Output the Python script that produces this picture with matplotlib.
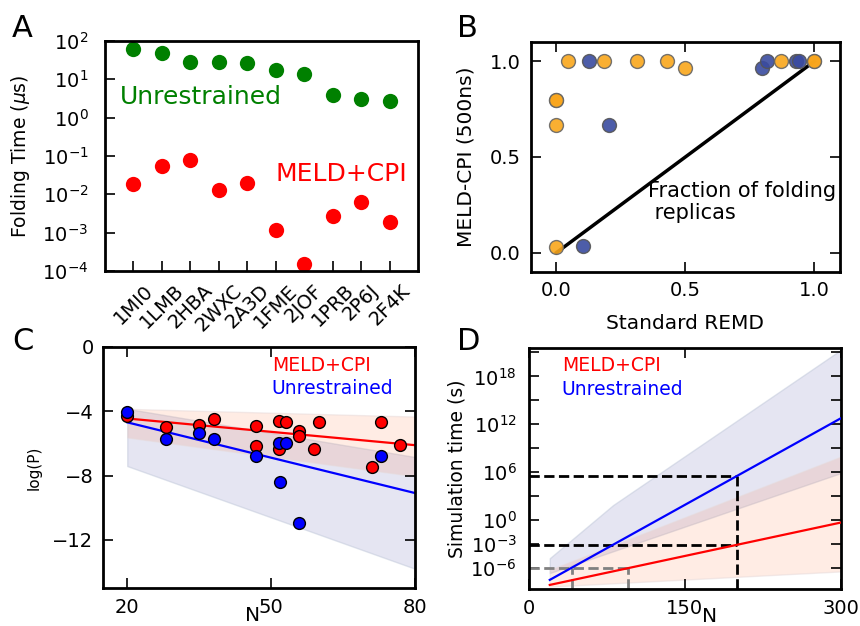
import numpy as np
import matplotlib
matplotlib.use('Agg')
import matplotlib.pyplot as plt
from matplotlib.ticker import FixedLocator, FuncFormatter, NullLocator

# ---------------- Panel A data ----------------
proteins = ['1MI0', '1LMB', '2HBA', '2WXC', '2A3D', '1FME', '2JOF', '1PRB', '2P6J', '2F4K']
unrestrained_time = [63, 48, 28, 28, 27, 17.5, 13.8, 3.8, 3.0, 2.7]
meld_time = [0.0184, 0.055, 0.079, 0.0126, 0.020, 0.00117, 0.00015, 0.0028, 0.0065, 0.0019]

# ---------------- Panel B data ----------------
orange_x = [0.0, 0.0, 0.0, 0.0, 0.043, 0.186, 0.312, 0.428, 0.5, 0.873, 1.0, 1.0]
orange_y = [0.03, 0.667, 0.80, 0.80, 1.0, 1.0, 1.0, 1.0, 0.965, 1.0, 1.0, 1.0]
blue_x = [0.102, 0.128, 0.202, 0.797, 0.815, 0.93, 0.94]
blue_y = [0.033, 1.0, 0.667, 0.965, 1.0, 1.0, 1.0]
diag = [0.0, 1.0]

# ---------------- Panel C data ----------------
meld_N = [20, 28, 34.9, 38, 46.9, 46.9, 51.7, 51.7, 53, 55.9, 55.9, 59, 59.9, 71, 73, 76.9]
meld_logP = [-4.27, -5.0, -4.86, -4.48, -4.94, -6.16, -4.63, -6.32, -4.67, -5.21, -5.57,
             -6.32, -4.67, -7.45, -4.65, -6.09]
unr_N = [20, 28, 34.9, 38, 46.9, 51.7, 53, 51.8, 55.9, 73]
unr_logP = [-4.02, -5.70, -5.36, -5.74, -6.78, -5.99, -5.95, -8.42, -10.97, -6.78]
fitC_N = [20, 80]
fitC_meld = [-4.45, -6.11]
fitC_unr = [-4.69, -9.09]
bandC_meld_hi = [-3.85, -4.33]
bandC_meld_lo = [-5.63, -8.04]
bandC_unr_hi = [-3.85, -6.85]
bandC_unr_lo = [-7.41, -13.8]

# ---------------- Panel D data (log10 seconds) ----------------
fitD_N = [20, 300]
fitD_meld = [-8.09, -0.29]
fitD_unr = [-7.46, 12.75]
bandD_unr_hi_N = [20, 81, 300]
bandD_unr_hi = [-4.75, 1.9, 21.3]
bandD_unr_lo = [-6.6, 5.9]
bandD_meld_hi = [-6.2, 7.95]
bandD_meld_lo = [-8.3, -6.4]
N_target = 200
N_gray_unr = 41
N_gray_meld = 95
gray_level = -6

# ---------------- style ----------------
plt.rcParams.update({
    'font.family': ['DejaVu Sans'],
    'xtick.direction': 'in', 'ytick.direction': 'in',
    'xtick.major.size': 7, 'ytick.major.size': 7,
    'xtick.major.width': 1.2, 'ytick.major.width': 1.2,
    'xtick.labelsize': 14, 'ytick.labelsize': 14,
    'axes.linewidth': 2,
    'axes.labelsize': 13.5,
})

W, H = 860, 626
fig = plt.figure(figsize=(W / 100, H / 100), dpi=100)


def ax_px(l, r, t, b):
    return fig.add_axes([l / W, 1 - b / H, (r - l) / W, (b - t) / H])


axA = ax_px(105, 418, 41, 271)
axB = ax_px(530.7, 840, 42.3, 271.7)
axC = ax_px(103.3, 415, 347, 588)
axD = ax_px(529, 840.7, 348, 589)

# ---------------- Panel A ----------------
xA = np.arange(len(proteins))
axA.plot(xA, unrestrained_time, 'o', color='green', ms=11, mec='none', clip_on=False)
axA.plot(xA, meld_time, 'o', color='red', ms=11, mec='none', clip_on=False)
axA.set_yscale('log')
axA.set_ylim(1e-4, 1e2)
axA.set_xlim(-1, len(proteins))
axA.yaxis.set_major_locator(FixedLocator([10.0 ** k for k in range(-4, 3)]))
axA.yaxis.set_minor_locator(NullLocator())
axA.set_xticks(xA)
axA.set_xticklabels(proteins, rotation=45)
axA.tick_params(axis='x', pad=7)
axA.tick_params(axis='y', pad=12)
axA.set_ylabel(r'Folding Time ($\mu$s)', fontsize=13.5)
axA.yaxis.set_label_coords(-0.234, 0.5)
axA.text(-0.47, 3.5, 'Unrestrained', color='green', fontsize=18, va='center')
axA.text(5.0, 0.034, 'MELD+CPI', color='red', fontsize=18, va='center')

# ---------------- Panel B ----------------
axB.plot(diag, diag, color='black', lw=2.5, zorder=1)
axB.plot(blue_x, blue_y, 'o', color='#3a4ba0', ms=10, mec='#555555', mew=1, alpha=0.9,
         zorder=2, clip_on=False)
axB.plot(orange_x, orange_y, 'o', color='#f9a61c', ms=10, mec='#666666', mew=1, alpha=0.9,
         zorder=3, clip_on=False)
axB.set_xlim(-0.1, 1.1)
axB.set_ylim(-0.1, 1.1)
axB.set_xticks([0, 0.5, 1.0])
axB.set_yticks([0, 0.5, 1.0])
axB.xaxis.set_major_formatter(FuncFormatter(lambda v, p: f'{v:.1f}'))
axB.yaxis.set_major_formatter(FuncFormatter(lambda v, p: f'{v:.1f}'))
axB.tick_params(top=True, right=True, pad=7)
axB.set_xlabel('Standard REMD', fontsize=14.5)
axB.xaxis.set_label_coords(0.5, -0.185)
axB.set_ylabel('MELD-CPI (500ns)', fontsize=14.5)
axB.yaxis.set_label_coords(-0.18, 0.5)
axB.text(0.356, 0.265, 'Fraction of folding\n replicas', fontsize=15, va='center',
         linespacing=1.1)

# ---------------- Panel C ----------------
edge_b = dict(edgecolor=(0.75, 0.78, 0.85, 0.5), linewidth=1)
edge_r = dict(edgecolor=(0.9, 0.85, 0.85, 0.5), linewidth=1)
axC.fill_between(fitC_N, bandC_unr_lo, bandC_unr_hi, facecolor=(0, 0, 0.5, 0.1), **edge_b, zorder=1)
axC.fill_between(fitC_N, bandC_meld_lo, bandC_meld_hi, facecolor=(1.0, 0.5, 0.31, 0.15), **edge_r, zorder=1)
axC.plot(fitC_N, fitC_meld, color='red', lw=1.6, zorder=2)
axC.plot(fitC_N, fitC_unr, color='blue', lw=1.6, zorder=2)
axC.plot(meld_N, meld_logP, 'o', color='red', ms=8.5, mec='black', mew=1, zorder=3)
axC.plot(unr_N, unr_logP, 'o', color='blue', ms=8.5, mec='black', mew=1, zorder=4)
axC.set_xlim(15, 80)
axC.set_ylim(-15, 0)
axC.set_xticks([20, 50, 80])
axC.set_yticks([0, -4, -8, -12])
axC.tick_params(top=True, right=True, pad=7)
axC.set_xlabel('N', fontsize=14.5)
axC.xaxis.set_label_coords(0.48, -0.075)
axC.set_ylabel('log(P)', fontsize=11)
axC.yaxis.set_label_coords(-0.197, 0.5)
axC.text(0.543, 0.924, 'MELD+CPI', color='red', fontsize=13.5, va='center', transform=axC.transAxes)
axC.text(0.54, 0.826, 'Unrestrained', color='blue', fontsize=13.5, va='center', transform=axC.transAxes)

# ---------------- Panel D ----------------
Ngrid = np.array(bandD_unr_hi_N, dtype=float)
ub_hi = np.array(bandD_unr_hi)
ub_lo = np.interp(Ngrid, fitD_N, bandD_unr_lo)
mb_hi = np.interp(Ngrid, fitD_N, bandD_meld_hi)
mb_lo = np.interp(Ngrid, fitD_N, bandD_meld_lo)
axD.fill_between(Ngrid, 10 ** ub_lo, 10 ** ub_hi, facecolor=(0, 0, 0.5, 0.1), **edge_b, zorder=1)
axD.fill_between(Ngrid, 10 ** mb_lo, 10 ** mb_hi, facecolor=(1.0, 0.5, 0.31, 0.15), **edge_r, zorder=1)
axD.plot(fitD_N, 10 ** np.array(fitD_unr), color='blue', lw=1.6, zorder=3)
axD.plot(fitD_N, 10 ** np.array(fitD_meld), color='red', lw=1.6, zorder=3)

ylo = 10 ** -8.6
unr_at_target = 10 ** np.interp(N_target, fitD_N, fitD_unr)
meld_at_target = 10 ** np.interp(N_target, fitD_N, fitD_meld)
dk = dict(color='black', lw=2, ls='--', zorder=2)
axD.plot([0, N_target], [unr_at_target, unr_at_target], **dk)
axD.plot([0, N_target], [meld_at_target, meld_at_target], **dk)
axD.plot([N_target, N_target], [ylo, unr_at_target], **dk)
gk = dict(color='#808080', lw=2, ls='--', zorder=2)
axD.plot([0, N_gray_meld], [10.0 ** gray_level] * 2, **gk)
axD.plot([N_gray_unr, N_gray_unr], [ylo, 10.0 ** gray_level], **gk)
axD.plot([N_gray_meld, N_gray_meld], [ylo, 10.0 ** gray_level], **gk)

axD.set_yscale('log')
axD.set_xlim(0, 300)
axD.set_ylim(ylo, 10 ** 21.55)
axD.set_xticks([0, 150, 300])
dec = list(range(-6, 22, 3))
axD.yaxis.set_major_locator(FixedLocator([10.0 ** k for k in dec]))
axD.yaxis.set_minor_locator(NullLocator())
shown = {18, 12, 6, 0, -3, -6}


def dfmt(v, p):
    k = int(round(np.log10(v)))
    return r'$\mathdefault{10^{%d}}$' % k if k in shown else ''


axD.yaxis.set_major_formatter(FuncFormatter(dfmt))
axD.tick_params(top=True, right=True, pad=7)
axD.tick_params(axis='y', pad=9)
axD.set_xlabel('N', fontsize=14.5)
axD.xaxis.set_label_coords(0.58, -0.075)
axD.set_ylabel('Simulation time (s)', fontsize=13.5)
axD.yaxis.set_label_coords(-0.2, 0.5)
axD.text(0.105, 0.927, 'MELD+CPI', color='red', fontsize=13.5, va='center', transform=axD.transAxes)
axD.text(0.105, 0.827, 'Unrestrained', color='blue', fontsize=13.5, va='center', transform=axD.transAxes)

# ---------------- panel letters ----------------
for lab, x, y in [('A', 12, 37), ('B', 457, 37), ('C', 12, 350), ('D', 457, 350)]:
    fig.text(x / W, 1 - y / H, lab, fontsize=22, va='baseline', ha='left')

fig.savefig('out.png', dpi=100)
